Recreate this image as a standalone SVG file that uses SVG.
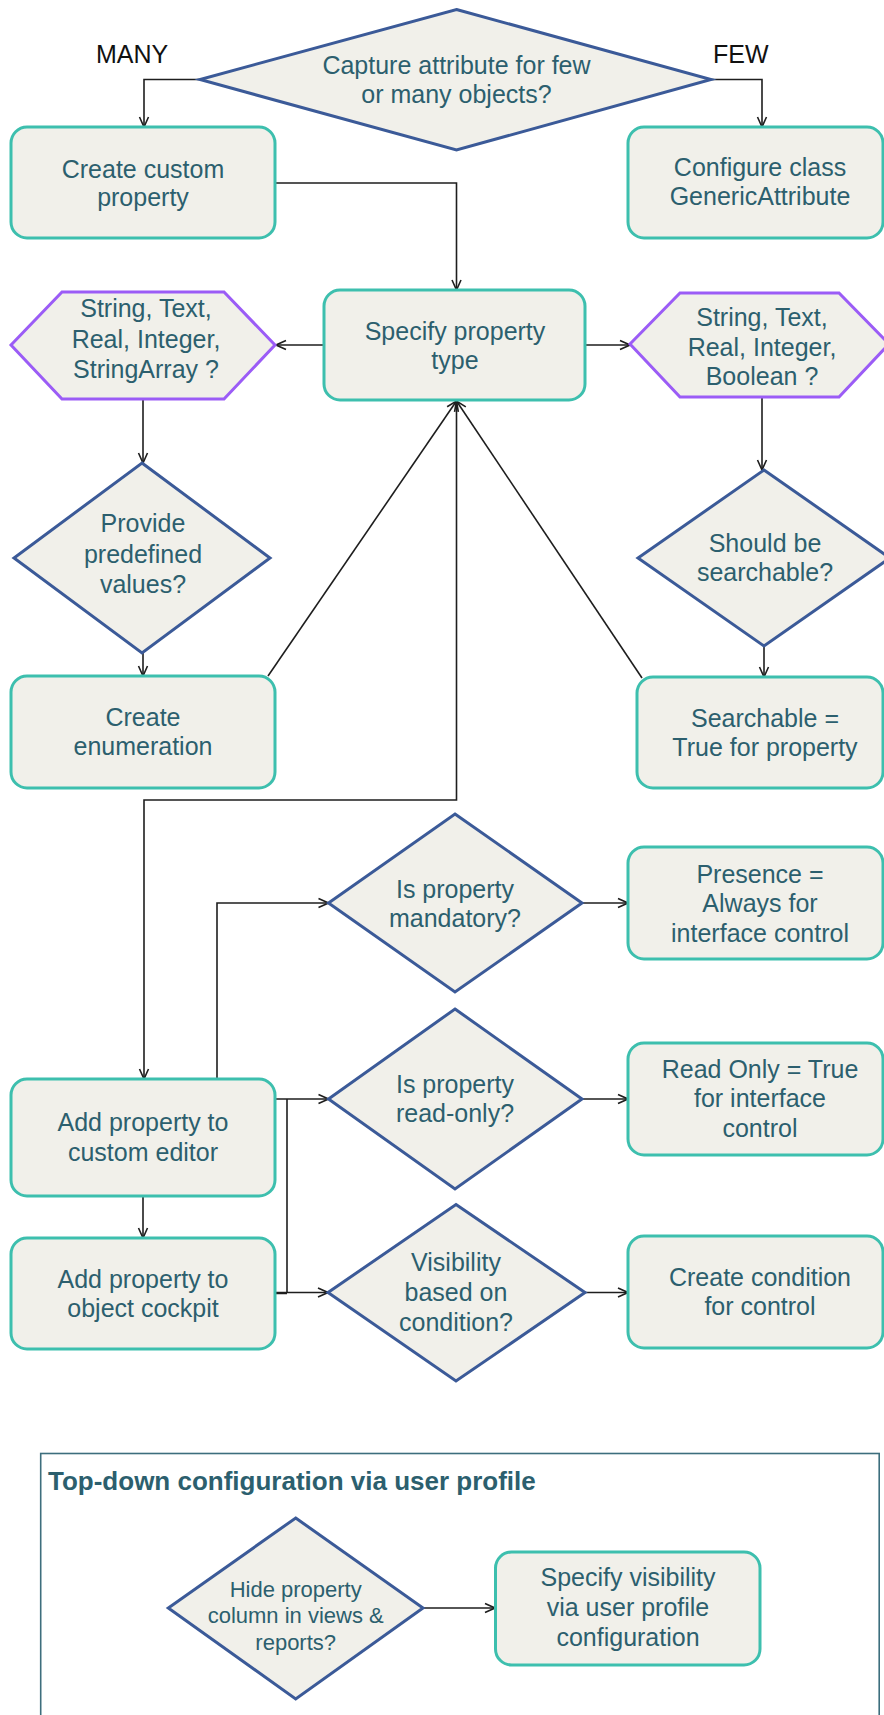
<svg xmlns="http://www.w3.org/2000/svg" width="884" height="1715" viewBox="0 0 884 1715">
<style>
.bg{fill:#ffffff}
.box{fill:#f1f0ea;stroke:#3dbfae;stroke-width:3}
.dia{fill:#f1f0ea;stroke:#3b5a98;stroke-width:3;stroke-linejoin:miter}
.hex{fill:#f1f0ea;stroke:#9b5cf6;stroke-width:3}
.t{font-family:"Liberation Sans",Arial,sans-serif;font-size:25px;fill:#2c5f6e;text-anchor:middle}
.ts{font-family:"Liberation Sans",Arial,sans-serif;font-size:22px;fill:#2c5f6e;text-anchor:middle}
.lbl{font-family:"Liberation Sans",Arial,sans-serif;font-size:25px;fill:#111111}
.title{font-family:"Liberation Sans",Arial,sans-serif;font-size:26px;font-weight:bold;fill:#2c5f6e}
.c{fill:none;stroke:#1e1e1e;stroke-width:1.6}
.ca{fill:none;stroke:#1e1e1e;stroke-width:1.6;marker-end:url(#arr)}
.frame{fill:none;stroke:#3d6e7d;stroke-width:1.6}
</style>
<defs>
<marker id="arr" viewBox="0 0 12 12" refX="11" refY="6" markerWidth="12" markerHeight="12" markerUnits="userSpaceOnUse" orient="auto">
<path d="M1,1.5 L11,6 L1,10.5" fill="none" stroke="#1e1e1e" stroke-width="1.6"/>
</marker>
</defs>
<rect class="bg" x="0" y="0" width="884" height="1715"/>

<g id="connectors">
<path class="ca" d="M200,79.5 H144 V127"/>
<path class="ca" d="M711,79.5 H762 V127"/>
<path class="ca" d="M275,183 H456.5 V290"/>
<path class="ca" d="M324,345 H276"/>
<path class="ca" d="M585,345 H630"/>
<path class="ca" d="M143,399 V463"/>
<path class="ca" d="M143,653 V676"/>
<path class="ca" d="M268,676 L456.5,401"/>
<path class="ca" d="M762,398 V470"/>
<path class="ca" d="M764,646 V677"/>
<path class="ca" d="M642,678 L456.5,401"/>
<path class="ca" d="M456.5,401 V800 H144 V1079"/>
<path class="ca" d="M217,1079 V903 H328.5"/>
<path class="ca" d="M275,1099 H328.5"/>
<path class="ca" d="M287,1099 V1292.5 H328"/>
<path class="c" d="M275,1293 H287" style="stroke-width:2.5"/>
<path class="ca" d="M582,903 H628"/>
<path class="ca" d="M582,1099 H628"/>
<path class="ca" d="M585,1292.5 H628"/>
<path class="ca" d="M143,1196 V1238"/>
<path class="ca" d="M423,1608 H495"/>
</g>

<g id="label-many"><text class="lbl" x="96" y="63">MANY</text></g>
<g id="label-few"><text class="lbl" x="713" y="63">FEW</text></g>

<g id="n-capture">
<polygon class="dia" points="456.5,9.5 711,79.5 456.5,150 200,79.5"/>
<text class="t"><tspan x="456.5" y="74">Capture attribute for few</tspan><tspan x="456.5" y="103">or many objects?</tspan></text>
</g>

<g id="n-create-custom">
<rect class="box" x="11" y="127" width="264" height="111" rx="16"/>
<text class="t"><tspan x="143" y="177.5">Create custom</tspan><tspan x="143" y="206">property</tspan></text>
</g>

<g id="n-configure">
<rect class="box" x="628" y="127" width="255" height="111" rx="16"/>
<text class="t"><tspan x="760" y="176">Configure class</tspan><tspan x="760" y="205">GenericAttribute</tspan></text>
</g>

<g id="n-specify-type">
<rect class="box" x="324" y="290" width="261" height="110" rx="16"/>
<text class="t"><tspan x="455" y="339.5">Specify property</tspan><tspan x="455" y="368.5">type</tspan></text>
</g>

<g id="n-hex-left">
<polygon class="hex" points="11,345 62,292 224,292 275,345 224,399 62,399"/>
<text class="t"><tspan x="146" y="317">String, Text,</tspan><tspan x="146" y="347.5">Real, Integer,</tspan><tspan x="146" y="378">StringArray ?</tspan></text>
</g>

<g id="n-hex-right">
<polygon class="hex" points="630,344 680,293 839,293 889,344 839,397 680,397"/>
<text class="t"><tspan x="762" y="326">String, Text,</tspan><tspan x="762" y="355.5">Real, Integer,</tspan><tspan x="762" y="385">Boolean ?</tspan></text>
</g>

<g id="n-predefined">
<polygon class="dia" points="142,463 270,558 142,653 14,558"/>
<text class="t"><tspan x="143" y="532">Provide</tspan><tspan x="143" y="563">predefined</tspan><tspan x="143" y="593">values?</tspan></text>
</g>

<g id="n-searchable-q">
<polygon class="dia" points="764,470 890,558 764,646 638,558"/>
<text class="t"><tspan x="765" y="552">Should be</tspan><tspan x="765" y="581">searchable?</tspan></text>
</g>

<g id="n-enumeration">
<rect class="box" x="11" y="676" width="264" height="112" rx="16"/>
<text class="t"><tspan x="143" y="726">Create</tspan><tspan x="143" y="755">enumeration</tspan></text>
</g>

<g id="n-searchable">
<rect class="box" x="637" y="677" width="246" height="111" rx="16"/>
<text class="t"><tspan x="765" y="727">Searchable =</tspan><tspan x="765" y="756">True for property</tspan></text>
</g>

<g id="n-mandatory">
<polygon class="dia" points="455,814 582,903 455,992 328.5,903"/>
<text class="t"><tspan x="455" y="897.5">Is property</tspan><tspan x="455" y="926.5">mandatory?</tspan></text>
</g>

<g id="n-presence">
<rect class="box" x="628" y="847" width="255" height="112" rx="16"/>
<text class="t"><tspan x="760" y="882.5">Presence =</tspan><tspan x="760" y="912">Always for</tspan><tspan x="760" y="942">interface control</tspan></text>
</g>

<g id="n-readonly-q">
<polygon class="dia" points="455,1009 582,1099 455,1189 328.5,1099"/>
<text class="t"><tspan x="455" y="1093">Is property</tspan><tspan x="455" y="1122">read-only?</tspan></text>
</g>

<g id="n-readonly">
<rect class="box" x="628" y="1043" width="255" height="112" rx="16"/>
<text class="t"><tspan x="760" y="1078">Read Only = True</tspan><tspan x="760" y="1107">for interface</tspan><tspan x="760" y="1137">control</tspan></text>
</g>

<g id="n-custom-editor">
<rect class="box" x="11" y="1079" width="264" height="117" rx="16"/>
<text class="t"><tspan x="143" y="1131">Add property to</tspan><tspan x="143" y="1161">custom editor</tspan></text>
</g>

<g id="n-cockpit">
<rect class="box" x="11" y="1238" width="264" height="111" rx="16"/>
<text class="t"><tspan x="143" y="1288">Add property to</tspan><tspan x="143" y="1316.5">object cockpit</tspan></text>
</g>

<g id="n-visibility-q">
<polygon class="dia" points="456,1204.5 585,1292.5 456,1381 328,1292.5"/>
<text class="t"><tspan x="456" y="1271">Visibility</tspan><tspan x="456" y="1301">based on</tspan><tspan x="456" y="1331">condition?</tspan></text>
</g>

<g id="n-condition">
<rect class="box" x="628" y="1236" width="255" height="112" rx="16"/>
<text class="t"><tspan x="760" y="1286">Create condition</tspan><tspan x="760" y="1315">for control</tspan></text>
</g>

<g id="g-topdown">
<rect class="frame" x="40.7" y="1453.5" width="838.5" height="320"/>
<text class="title" x="48" y="1490">Top-down configuration via user profile</text>
</g>

<g id="n-hide-q">
<polygon class="dia" points="295.7,1518 423,1608 295.7,1699 168.3,1608"/>
<text class="ts"><tspan x="295.7" y="1597">Hide property</tspan><tspan x="295.7" y="1623">column in views &amp;</tspan><tspan x="295.7" y="1650">reports?</tspan></text>
</g>

<g id="n-profile">
<rect class="box" x="495.5" y="1552" width="264.5" height="113" rx="16"/>
<text class="t"><tspan x="628" y="1586">Specify visibility</tspan><tspan x="628" y="1616">via user profile</tspan><tspan x="628" y="1646">configuration</tspan></text>
</g>
</svg>
